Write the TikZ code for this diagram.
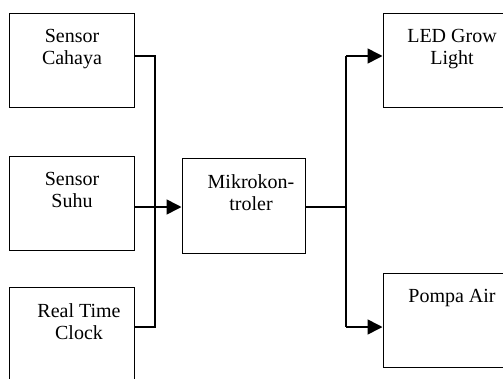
\documentclass[tikz,border=0pt]{standalone}
\usepackage{fontspec}
\setmainfont{Liberation Serif}
\usetikzlibrary{arrows.meta,calc}
\begin{document}
\begin{tikzpicture}[x=1pt,y=-1pt,
  box/.style={draw, line width=1pt, inner sep=0pt, minimum width=125pt, minimum height=94pt},
  txt/.style={anchor=north, inner sep=0pt, align=center, font=\fontsize{20}{22}\selectfont},
  wire/.style={line width=1.6pt},
  arr/.style={wire, -{Triangle[length=15pt,width=15pt]}}]
\useasboundingbox (0,0) rectangle (503,378);
\clip (0,0) rectangle (503,378);
% boxes
\node[box] (b1) at (71.5,60) {};
\node[box] (b2) at (71.5,203) {};
\node[box] (b3) at (71.5,334) {};
\node[box, minimum width=123pt, minimum height=95pt] (m) at (243.5,205.5) {};
\node[box] (l) at (445.5,60) {};
\node[box] (p) at (445.5,320) {};
% texts
\node[txt] (t1) at (72,29) {Sensor\\Cahaya};
\node[txt] (t2) at (72,172) {Sensor\\Suhu};
\node[txt] (t3) at (79,303) {Real Time\\Clock};
\node[txt] (tm) at (251,174) {Mikrokon-\\troler};
\node[txt] (tl) at (452,29) {LED Grow\\Light};
\node[txt] (tp) at (452,289) {Pompa Air};
% junctions
\coordinate (j1) at (155,56);
\coordinate (j2) at (155,207);
\coordinate (j3) at (155,327);
\coordinate (k1) at (346,56);
\coordinate (k2) at (346,207);
\coordinate (k3) at (346,327);
% input wires
\draw[wire] (b1.east |- j1) -- (j1) -- (j3) -- (b3.east |- j3);
\draw[wire] (b2.east |- j2) -- (j2);
\draw[arr] (j2) -- (m.west |- j2);
% output wires
\draw[wire] (m.east |- k2) -- (k2);
\draw[wire] (k1) -- (k3);
\draw[arr] (k1) -- (l.west |- k1);
\draw[arr] (k3) -- (p.west |- k3);
\end{tikzpicture}
\end{document}
